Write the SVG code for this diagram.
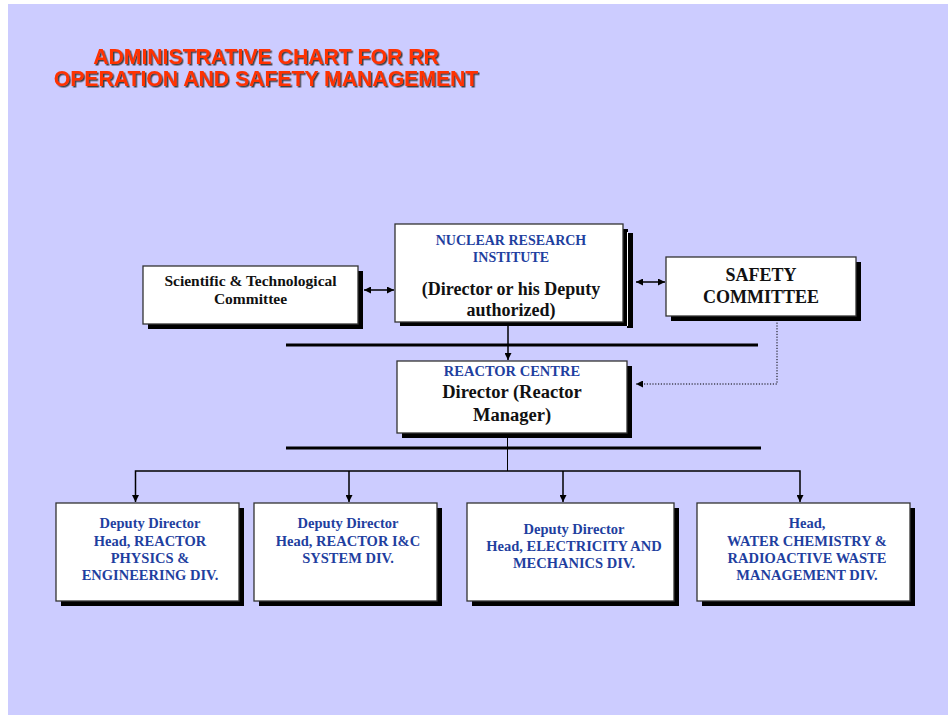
<svg xmlns="http://www.w3.org/2000/svg" width="948" height="715" viewBox="0 0 948 715">
<defs>
<style>
.box{fill:#fff;stroke:#333;stroke-width:1.3}
.sh{fill:#000}
.blue{font-family:"Liberation Serif","Times New Roman",serif;font-weight:bold;fill:#1F3F9F;text-anchor:middle}
.blk{font-family:"Liberation Serif","Times New Roman",serif;font-weight:bold;fill:#111;text-anchor:middle}
.title{font-family:"Liberation Sans",Arial,sans-serif;font-weight:bold;font-size:21.2px;text-anchor:middle;fill:#FF3300}
.ln{stroke:#000;fill:none}
</style>
<filter id="tsh" x="-5%" y="-20%" width="110%" height="140%">
<feDropShadow dx="1.5" dy="1.5" stdDeviation="0.3" flood-color="#333" flood-opacity="0.9"/>
</filter>
<marker id="ah" viewBox="0 0 10 10" refX="10" refY="5" markerWidth="7" markerHeight="7" markerUnits="userSpaceOnUse" orient="auto-start-reverse">
<path d="M0,0 L10,5 L0,10 z" fill="#000"/>
</marker>
</defs>
<rect x="0" y="0" width="948" height="715" fill="#fff"/>
<rect x="8" y="4" width="940" height="711" fill="#CCCCFF"/>

<g id="title" filter="url(#tsh)">
<text class="title" x="266" y="63.5">ADMINISTRATIVE CHART FOR RR</text>
<text class="title" x="266" y="85.5">OPERATION AND SAFETY MANAGEMENT</text>
</g>

<g id="connectors">
<line class="ln" x1="286" y1="345" x2="758" y2="345" stroke-width="3"/>
<line class="ln" x1="286" y1="448" x2="761" y2="448" stroke-width="3"/>
<line class="ln" x1="508" y1="323" x2="508" y2="360" stroke-width="1.5" marker-end="url(#ah)"/>
<line class="ln" x1="364" y1="290" x2="394" y2="290" stroke-width="1.5" marker-start="url(#ah)" marker-end="url(#ah)"/>
<line class="ln" x1="636" y1="282" x2="665" y2="282" stroke-width="1.5" marker-start="url(#ah)" marker-end="url(#ah)"/>
<polyline class="ln" points="777,317 777,384 636,384" stroke-width="1" stroke-dasharray="1.2,1.6" marker-end="url(#ah)"/>
<line class="ln" x1="507.5" y1="434" x2="507.5" y2="471" stroke-width="1"/>
<polyline class="ln" points="135.5,502 135.5,471 800,471 800,502" stroke-width="1.5" marker-start="url(#ah)" marker-end="url(#ah)"/>
<line class="ln" x1="349" y1="471" x2="349" y2="502" stroke-width="1.5" marker-end="url(#ah)"/>
<line class="ln" x1="563" y1="471" x2="563" y2="502" stroke-width="1.5" marker-end="url(#ah)"/>
</g>

<g id="sci-tech">
<rect class="sh" x="148" y="271" width="215" height="58"/>
<rect class="box" x="143" y="266" width="215" height="58"/>
<text class="blk" font-size="15.5" x="250.5" y="286">Scientific &amp; Technological</text>
<text class="blk" font-size="15.5" x="250.5" y="304">Committee</text>
</g>

<g id="nri">
<rect class="sh" x="627" y="233" width="6" height="95"/>
<rect class="sh" x="400" y="229" width="228" height="97"/>
<line x1="627.5" y1="232" x2="627.5" y2="326" stroke="#fff" stroke-width="1"/>
<rect class="box" x="395" y="224" width="228" height="98"/>
<text class="blue" font-size="14" x="511" y="245">NUCLEAR RESEARCH</text>
<text class="blue" font-size="14" x="511" y="262">INSTITUTE</text>
<text class="blk" font-size="18" x="511" y="295">(Director or his Deputy</text>
<text class="blk" font-size="18" x="511" y="316">authorized)</text>
</g>

<g id="safety">
<rect class="sh" x="671" y="262" width="190" height="59"/>
<rect class="box" x="666" y="257" width="190" height="59"/>
<text class="blk" font-size="18" x="761" y="281">SAFETY</text>
<text class="blk" font-size="18" x="761" y="303">COMMITTEE</text>
</g>

<g id="reactor-centre">
<rect class="sh" x="402" y="366" width="230" height="72"/>
<rect class="box" x="397" y="361" width="230" height="72"/>
<text class="blue" font-size="14.5" x="512" y="376">REACTOR CENTRE</text>
<text class="blk" font-size="18.5" x="512" y="398">Director (Reactor</text>
<text class="blk" font-size="18.5" x="512" y="421">Manager)</text>
</g>

<g id="div-physics">
<rect class="sh" x="61" y="508" width="183" height="98"/>
<rect class="box" x="56" y="503" width="183" height="98"/>
<text class="blue" font-size="14.5" x="150" y="528">Deputy Director</text>
<text class="blue" font-size="14.5" x="150" y="546">Head, REACTOR</text>
<text class="blue" font-size="14.5" x="150" y="563">PHYSICS &amp;</text>
<text class="blue" font-size="14.5" x="150" y="580">ENGINEERING DIV.</text>
</g>

<g id="div-ic">
<rect class="sh" x="259" y="508" width="183" height="98"/>
<rect class="box" x="254" y="503" width="183" height="98"/>
<text class="blue" font-size="14.5" x="348" y="528">Deputy Director</text>
<text class="blue" font-size="14.5" x="348" y="546">Head, REACTOR I&amp;C</text>
<text class="blue" font-size="14.5" x="348" y="563">SYSTEM DIV.</text>
</g>

<g id="div-electricity">
<rect class="sh" x="472" y="508" width="207" height="98"/>
<rect class="box" x="467" y="503" width="207" height="98"/>
<text class="blue" font-size="14.5" x="574" y="534">Deputy Director</text>
<text class="blue" font-size="14.5" x="574" y="551">Head, ELECTRICITY AND</text>
<text class="blue" font-size="14.5" x="574" y="568">MECHANICS DIV.</text>
</g>

<g id="div-water">
<rect class="sh" x="702" y="508" width="213" height="98"/>
<rect class="box" x="697" y="503" width="213" height="98"/>
<text class="blue" font-size="14.5" x="807" y="528">Head,</text>
<text class="blue" font-size="14.5" x="807" y="546">WATER CHEMISTRY &amp;</text>
<text class="blue" font-size="14.5" x="807" y="563">RADIOACTIVE WASTE</text>
<text class="blue" font-size="14.5" x="807" y="580">MANAGEMENT DIV.</text>
</g>
</svg>
